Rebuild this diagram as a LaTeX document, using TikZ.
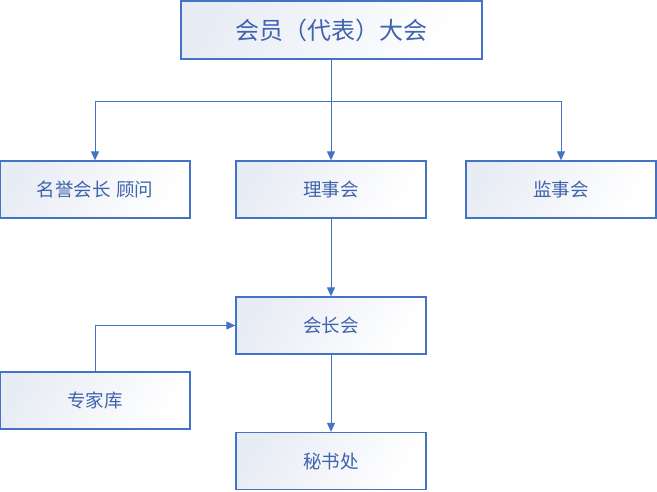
\documentclass[tikz,border=0pt]{standalone}
\usepackage{fontspec}
\setmainfont{Noto Sans CJK SC}
\usetikzlibrary{arrows.meta}
\definecolor{lineblue}{HTML}{4472C4}
\definecolor{textblue}{HTML}{3F63AD}
\definecolor{fillgray}{HTML}{E8ECF4}
\begin{document}
\begin{tikzpicture}[x=1pt,y=-1pt,
  orgbox/.style={draw=lineblue, line width=1.3pt, left color=fillgray, right color=white, shading angle=60,
    minimum width=190pt, minimum height=57pt, inner sep=0pt, text=textblue, font=\fontsize{18.5}{21}\selectfont},
  conn/.style={draw=lineblue, line width=1pt},
  arr/.style={conn, -{Triangle[length=9pt,width=8pt]}}]
\useasboundingbox (0,0) rectangle (657,491);
\node[orgbox, minimum width=301pt, minimum height=58pt, font=\fontsize{24}{27}\selectfont] (top) at (331.5,30) {会员（代表）大会};
\node[orgbox] (hon) at (95,189.5) {名誉会长\hspace{0.3em}顾问};
\node[orgbox] (lsh) at (331,189.5) {理事会};
\node[orgbox] (jsh) at (561,189.5) {监事会};
\node[orgbox] (hzh) at (331,325.5) {会长会};
\node[orgbox] (zjk) at (95,400.5) {专家库};
\node[orgbox] (msc) at (331,461) {秘书处};
\coordinate (j) at (331,101);
\draw[conn] (top.south -| j) -- (j);
\draw[arr] (j) -| (hon.north);
\draw[arr] (j) -- (lsh.north);
\draw[arr] (j) -| (jsh.north);
\draw[arr] (lsh.south) -- (hzh.north);
\draw[arr] (zjk.north) |- (hzh.west);
\draw[arr] (hzh.south) -- (msc.north);
\end{tikzpicture}
\end{document}
